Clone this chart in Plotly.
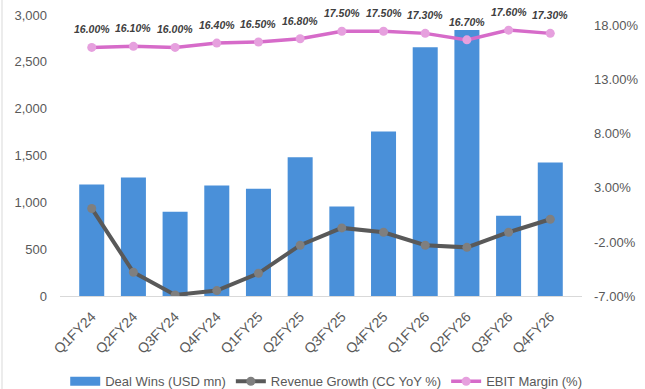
import plotly.graph_objects as go

categories = ["Q1FY24", "Q2FY24", "Q3FY24", "Q4FY24", "Q1FY25", "Q2FY25",
              "Q3FY25", "Q4FY25", "Q1FY26", "Q2FY26", "Q3FY26", "Q4FY26"]
deal_wins = [1190, 1264, 900, 1180, 1146, 1480, 955, 1757, 2657, 2839, 857, 1425]
revenue_growth = [1.1, -4.8, -6.9, -6.5, -4.9, -2.3, -0.7, -1.1, -2.3, -2.5, -1.1, 0.1]
ebit_margin = [16.0, 16.1, 16.0, 16.4, 16.5, 16.8, 17.5, 17.5, 17.3, 16.7, 17.6, 17.3]
left_ticks = [0, 500, 1000, 1500, 2000, 2500, 3000]
right_ticks = [-7, -2, 3, 8, 13, 18]

FONT = "Liberation Sans"
GRAY = "#595959"
BLUE = "#4A90D9"

fig = go.Figure()
fig.add_trace(go.Bar(
    x=categories, y=deal_wins, name="Deal Wins (USD mn)",
    marker=dict(color=BLUE, line=dict(width=0)), showlegend=False,
))
# legend swatch for the bars (wide rectangle like the reference)
fig.add_trace(go.Scatter(
    x=[None], y=[None], name="Deal Wins (USD mn)", mode="lines",
    line=dict(color=BLUE, width=9),
))
fig.add_trace(go.Scatter(
    x=categories, y=revenue_growth, name="Revenue Growth (CC YoY %)",
    yaxis="y2", mode="lines+markers",
    line=dict(color="#595959", width=4),
    marker=dict(color="#7F7F7F", size=9),
))
fig.add_trace(go.Scatter(
    x=categories, y=ebit_margin, name="EBIT Margin (%)",
    yaxis="y2", mode="lines+markers",
    line=dict(color="#D66BC9", width=3.5),
    marker=dict(color="#E6A0DE", size=9),
))

for c, v in zip(categories, ebit_margin):
    fig.add_annotation(
        x=c, y=v, yref="y2", text=f"<b><i>{v:.2f}%</i></b>",
        showarrow=False, yshift=18,
        font=dict(family=FONT, size=10.5, color="#404040"),
    )

# thin gray border line at the far left edge, as in the reference
fig.add_shape(type="line", xref="paper", yref="paper",
              x0=-58/522, x1=-58/522, y0=-93/281, y1=1 + 15/281,
              line=dict(color="#D9D9D9", width=1))

fig.update_layout(
    width=645, height=389,
    margin=dict(l=60, r=63, t=15, b=93, autoexpand=False),
    plot_bgcolor="white", paper_bgcolor="white",
    bargap=0.4,
    font=dict(family=FONT, size=13, color=GRAY),
    xaxis=dict(
        type="category", tickangle=-45, showgrid=False, automargin=False,
        showline=True, linecolor="#D9D9D9", linewidth=1,
        ticks="", ticklabelstandoff=6, tickfont=dict(size=14, color=GRAY),
    ),
    yaxis=dict(
        range=[0, 3000], tickvals=left_ticks, tickformat=",", automargin=False,
        showgrid=False, zeroline=False, showline=False, ticklabelstandoff=12,
        tickfont=dict(size=13, color=GRAY),
    ),
    yaxis2=dict(
        range=[-7, 19], overlaying="y", side="right", automargin=False,
        tickvals=right_ticks, ticktext=[f"{t:.2f}%" for t in right_ticks],
        showgrid=False, zeroline=False, showline=False, ticklabelstandoff=11,
        tickfont=dict(size=13, color=GRAY),
    ),
    legend=dict(
        orientation="h", x=0.51, xanchor="center", y=-0.25, yanchor="top",
        font=dict(size=13, color=GRAY), traceorder="normal",
    ),
    showlegend=True,
)

fig.write_html("out.html", config={"displayModeBar": False},
               post_script="document.body.style.margin='0px';")
